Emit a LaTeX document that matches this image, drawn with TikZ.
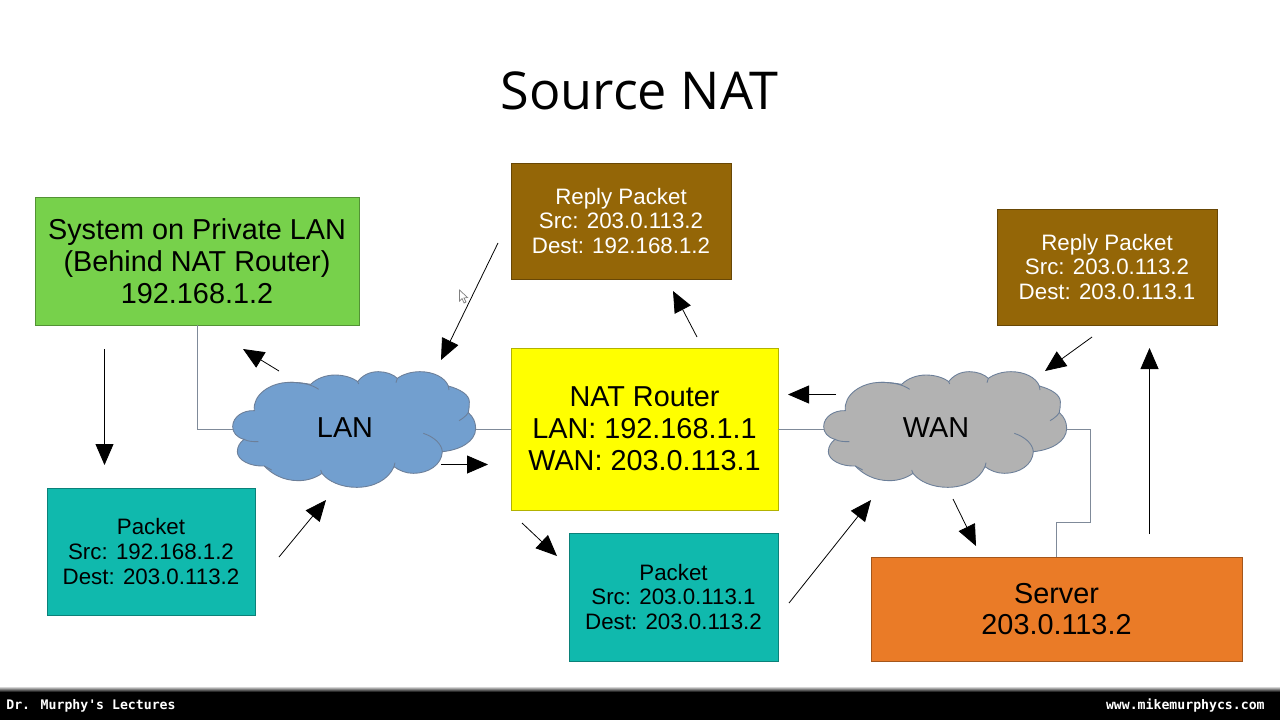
\documentclass[tikz,border=0pt]{standalone}
\usepackage{fontspec}
\setmainfont{Liberation Sans}
\newfontfamily\titlefont{Open Sans}
\newfontfamily\barfont{DejaVu Sans Mono}
\usetikzlibrary{arrows.meta}
\definecolor{lancloud}{HTML}{729FCF}
\definecolor{wancloud}{HTML}{B2B2B2}
\definecolor{cloudedge}{HTML}{6C7F99}
\definecolor{linkgray}{HTML}{7F8A99}
\definecolor{greenbox}{HTML}{77D14B}
\definecolor{brownbox}{HTML}{946607}
\definecolor{tealbox}{HTML}{10B9AD}
\definecolor{orangebox}{HTML}{EA7B27}
\definecolor{yellowbox}{HTML}{FFFF00}
\tikzset{
    bigbox/.style={draw=#1!70!black, fill=#1, line width=0.4pt, align=center, inner sep=0pt,
        font=\fontsize{16.4}{18.1}\selectfont},
    smallbox/.style={bigbox=#1, font=\fontsize{12.7}{14.2}\selectfont},
    link/.style={draw=linkgray, line width=0.5pt},
    flow/.style={draw=black, line width=0.45pt, -{Triangle[length=0.42cm, width=0.36cm]}},
    netcloud/.pic={
        \begin{scope}[x=0.00667cm, y=-0.00667cm]
            \path[pic actions, line width=0.5pt]
                (38,230) .. controls (38,200) and (70,180) .. (103,182)
                .. controls (97,135) and (150,97) .. (210,97)
                .. controls (232,97) and (255,100) .. (272,103)
                .. controls (290,85) and (318,75) .. (345,75)
                .. controls (372,75) and (398,83) .. (413,95)
                .. controls (428,75) and (450,65) .. (475,65)
                .. controls (498,65) and (520,73) .. (532,85)
                .. controls (550,72) and (575,65) .. (600,65)
                .. controls (640,65) and (675,82) .. (685,108)
                .. controls (722,118) and (748,135) .. (748,155)
                .. controls (748,168) and (747,178) .. (745,188)
                .. controls (760,200) and (767,218) .. (767,235)
                .. controls (767,275) and (720,300) .. (667,305)
                .. controls (665,345) and (625,370) .. (580,370)
                .. controls (558,370) and (538,362) .. (522,350)
                .. controls (505,390) and (460,412) .. (410,412)
                .. controls (365,412) and (325,395) .. (306,370)
                .. controls (285,385) and (260,392) .. (235,392)
                .. controls (190,392) and (155,372) .. (133,348)
                .. controls (90,350) and (52,330) .. (52,305)
                .. controls (52,290) and (60,277) .. (72,268)
                .. controls (50,262) and (38,248) .. (38,230) -- cycle;
            \draw[pic actions, fill=none, line width=0.5pt] (72,268) .. controls (85,275) and (100,275) .. (115,275);
            \draw[pic actions, fill=none, line width=0.5pt] (210,97) .. controls (245,97) and (275,103) .. (296,118);
            \draw[pic actions, fill=none, line width=0.5pt] (413,95) -- (416,102);
            \draw[pic actions, fill=none, line width=0.5pt] (532,85) -- (528,98);
            \draw[pic actions, fill=none, line width=0.5pt] (685,108) -- (687,120);
            \draw[pic actions, fill=none, line width=0.5pt] (745,188) .. controls (738,198) and (728,206) .. (717,212);
            \draw[pic actions, fill=none, line width=0.5pt] (610,250) .. controls (640,260) and (665,280) .. (667,305);
            \draw[pic actions, fill=none, line width=0.5pt] (522,350) -- (525,338);
            \draw[pic actions, fill=none, line width=0.5pt] (306,370) -- (302,360);
            \draw[pic actions, fill=none, line width=0.5pt] (133,348) -- (155,360);
            \coordinate (-west) at (38,237);
            \coordinate (-east) at (767,237);
        \end{scope}
    },
}

\begin{document}
\begin{tikzpicture}[x=0.02cm, y=-0.02cm]
        \useasboundingbox (0,0) rectangle (1280,720);
        \fill[white] (0,0) rectangle (1280,720);

        \node (title) at (639.5,91) {\titlefont\fontsize{29.7}{34}\selectfont Source NAT};

        \node[bigbox=greenbox, minimum width=6.48cm, minimum height=2.56cm] (system) at (197,261)
            {System on Private LAN\\(Behind NAT Router)\\192.168.1.2};
        \node[bigbox=yellowbox, minimum width=5.34cm, minimum height=3.24cm] (router) at (644.5,429)
            {NAT Router\\LAN: 192.168.1.1\\WAN: 203.0.113.1};
        \node[bigbox=orangebox, minimum width=7.42cm, minimum height=2.08cm] (server) at (1056.5,609)
            {Server\\203.0.113.2};
        \node[smallbox=brownbox, text=white, minimum width=4.4cm, minimum height=2.32cm] (replylan) at (621,221)
            {Reply Packet\\Src: 203.0.113.2\\Dest: 192.168.1.2};
        \node[smallbox=brownbox, text=white, minimum width=4.4cm, minimum height=2.32cm] (replywan) at (1107,267)
            {Reply Packet\\Src: 203.0.113.2\\Dest: 203.0.113.1};
        \node[smallbox=tealbox, minimum width=4.16cm, minimum height=2.54cm] (packetlan) at (151,551.5)
            {Packet\\Src: 192.168.1.2\\Dest: 203.0.113.2};
        \node[smallbox=tealbox, minimum width=4.18cm, minimum height=2.56cm] (packetwan) at (673.5,597)
            {Packet\\Src: 203.0.113.1\\Dest: 203.0.113.2};

        \pic[draw=cloudedge, fill=lancloud] (lan) at (220,350) {netcloud};
        \pic[draw=cloudedge, fill=wancloud] (wan) at (811,350) {netcloud};
        \node[font=\fontsize{16.4}{18}\selectfont] (lanlabel) at (345,428) {LAN};
        \node[font=\fontsize{16.4}{18}\selectfont] (wanlabel) at (936,428) {WAN};

        \draw[link] (system.south) |- (lan-west);
        \draw[link] (lan-east) -- (lan-east -| router.west);
        \draw[link] (lan-east -| router.east) -- (wan-west);
        \coordinate (serverup) at (server.north);
        \coordinate (wanright) at (1090,522);
        \draw[link] (wan-east) -| (wanright) -| (serverup);

        \coordinate (fa) at (104.5,349);   \coordinate (ta) at (104.5,465);
        \coordinate (fb) at (279,371);   \coordinate (tb) at (243,349);
        \coordinate (fc) at (279,557);   \coordinate (tc) at (326,500);
        \coordinate (fd) at (441,464.5);   \coordinate (td) at (488,464.5);
        \coordinate (fe) at (498,243);   \coordinate (te) at (441,360);
        \coordinate (ff) at (697,337);   \coordinate (tf) at (673,291);
        \coordinate (fg) at (522,523);   \coordinate (tg) at (557,556);
        \coordinate (fh) at (789,603);   \coordinate (th) at (871,500);
        \coordinate (fi) at (836,394.5);   \coordinate (ti) at (788,394.5);
        \coordinate (fj) at (953,499);   \coordinate (tj) at (976,546);
        \coordinate (fk) at (1092,337);  \coordinate (tk) at (1045,371);
        \coordinate (fl) at (1149.5,534);  \coordinate (tl) at (1149.5,348);

        \draw[flow] (fa) -- (ta);
        \draw[flow] (fb) -- (tb);
        \draw[flow] (fc) -- (tc);
        \draw[flow] (fd) -- (td);
        \draw[flow] (fe) -- (te);
        \draw[flow] (ff) -- (tf);
        \draw[flow] (fg) -- (tg);
        \draw[flow] (fh) -- (th);
        \draw[flow] (fi) -- (ti);
        \draw[flow] (fj) -- (tj);
        \draw[flow] (fk) -- (tk);
        \draw[flow] (fl) -- (tl);

        % mouse pointer
        \draw[gray, fill=white, line width=0.4pt] (459.5,290) -- (459.5,301) -- (462,298.5) -- (464,303) -- (466,302) -- (464,298) -- (467.5,297.5) -- cycle;

        \shade[top color=white, bottom color=black] (0,686) rectangle (1280,692);
        \fill[black] (0,692) rectangle (1280,720);
        \node[white, anchor=west, inner sep=0pt, font=\barfont\bfseries\fontsize{7.5}{9}\selectfont] (lecture) at (6,705.5) {Dr. Murphy's Lectures};
        \node[white, anchor=east, inner sep=0pt, font=\barfont\bfseries\fontsize{7.5}{9}\selectfont] (website) at (1265,705.5) {www.mikemurphycs.com};
    \end{tikzpicture}
\end{document}
